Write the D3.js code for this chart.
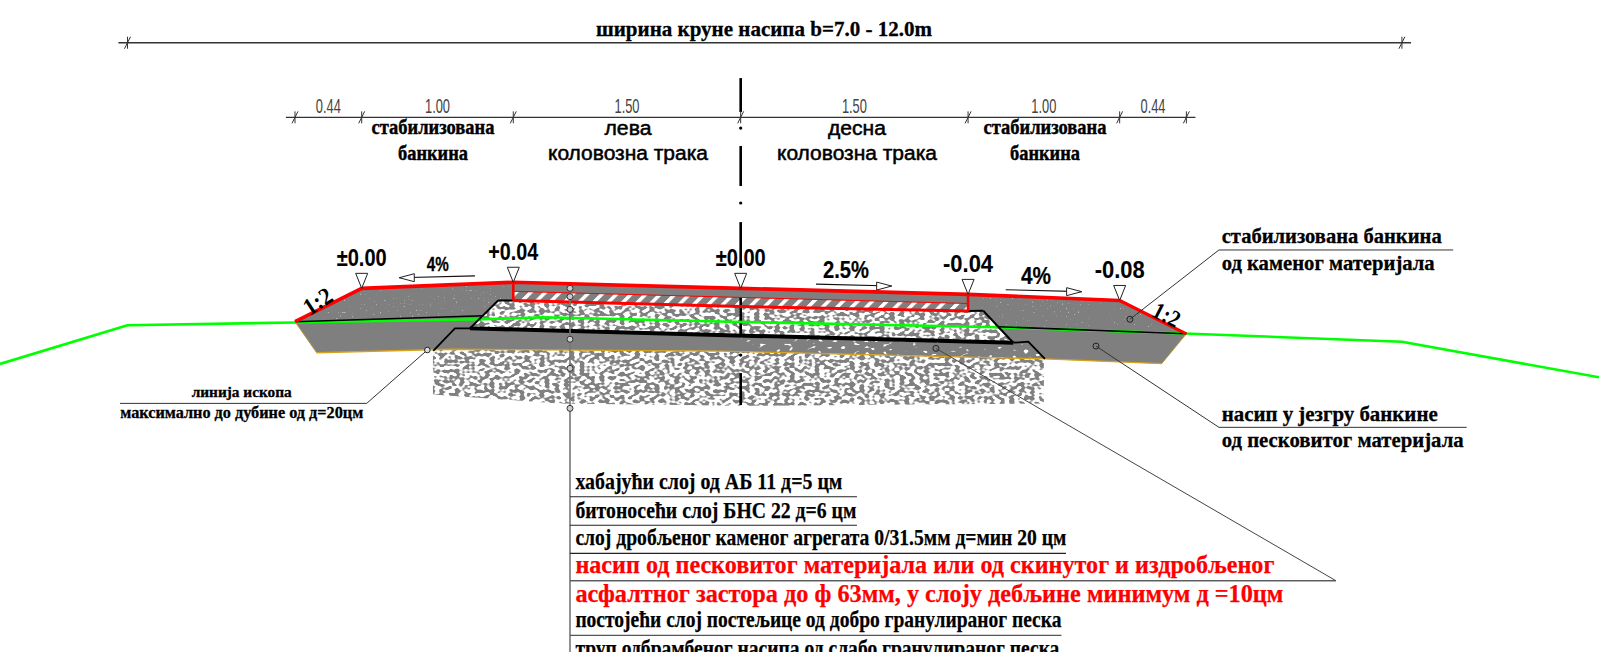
<!DOCTYPE html>
<html>
<head>
<meta charset="utf-8">
<script src="https://cdn.jsdelivr.net/npm/d3@7"></script>
<style>
  html, body { margin: 0; padding: 0; background: #fff; overflow: hidden; }
  svg { display: block; }
</style>
</head>
<body>
<svg id="chart"></svg>
<script>
// cross section values, metres from the road axis / metres from crown level
var surfaceX = [-2.94, -2.5, -1.5, 0, 1.5, 2.5, 2.94];
var surfaceE = [-0.22, 0, 0.04, 0, -0.04, -0.08, -0.30];
var bottomX = [-2.94, -2.797, -1.918, -0.137, 2.007, 2.777, 2.94];
var bottomE = [-0.22, -0.425, -0.402, -0.414, -0.466, -0.497, -0.30];
var asphaltBaseX = [-1.5, 0, 1.5];
var asphaltBaseE = [-0.08, -0.12, -0.15];
var asphaltSplitE = [-0.02, -0.06, -0.10];
var asphaltTopE = [0.04, 0, -0.04];
var baseX = [-1.5, -1.6, -1.786, 1.798, 1.6, 1.5];
var baseE = [-0.08, -0.08, -0.264, -0.359, -0.148, -0.15];
var trenchX = [-2.028, -1.885, -1.786, 1.798, 1.897, 2.007];
var trenchE = [-0.412, -0.264, -0.264, -0.359, -0.352, -0.466];
var coreX = [-2.94, -1.698];
var coreE = [-0.22, -0.181];
var coreRightX = [1.697, 2.94];
var coreRightE = [-0.253, -0.30];
var groundX = [-4.886, -4.045, -2.94, -1.70, -1.304, -0.07, 1.697, 2.93, 4.362, 5.662];
var groundE = [-0.499, -0.244, -0.225, -0.204, -0.191, -0.22, -0.257, -0.298, -0.352, -0.587];
var subgradeX = [-2.03, -1.918, -0.137, 2.0, 2.0, 0, -1.2, -2.03];
var subgradeE = [-0.41, -0.402, -0.414, -0.466, -0.76, -0.775, -0.76, -0.70];
var dottedX = [0, 1.798, 1.897, 2.007, -0.0];
var dottedE = [-0.311, -0.359, -0.352, -0.466, -0.414];

var axisStart = [1.387, 0.939, 0.437, -0.057, -0.559];
var axisEnd = [1.163, 0.675, 0.134, -0.308, -0.77];
var axisDots = [1.057, 0.563, 0.068, -0.44];

var dimStations = [-2.94, -2.5, -1.5, 0, 1.5, 2.5, 2.94];
var dimLabels = ["0.44", "1.00", "1.50", "1.50", "1.00", "0.44"];
var totalStations = [-4.045, 4.362];

var levelX = [-2.5, -1.5, 0, 1.5, 2.5];
var levelE = [0, 0.04, 0, -0.04, -0.08];
var levelLabels = ["±0.00", "+0.04", "±0.00", "-0.04", "-0.08"];

var slopeLabels = ["4%", "2.5%", "4%"];
var slopeTailX = [-1.753, 0.497, 1.748];
var slopeTailE = [0.082, 0.028, -0.009];
var slopeHeadX = [-2.252, 0.996, 2.249];
var slopeHeadE = [0.070, 0.015, -0.022];

var stemX = -1.126;
var stemDots = [0, -0.055, -0.139, -0.336, -0.528, -0.792];
var layerRuleE = [-1.375, -1.563, -1.748, -1.929, -2.289];
var layerRuleEnd = [0.767, 0.767, 2.146, 3.927, 2.116];
var layerLabels = [
  "хабајући слој од АБ 11 д=5 цм",
  "битоносећи слој БНС 22 д=6 цм",
  "слој дробљеног каменог агрегата 0/31.5мм д=мин 20 цм",
  "насип од песковитог материјала или од скинутог и издробљеног",
  "асфалтног застора до ф 63мм, у слоју дебљине минимум д =10цм",
  "постојећи слој постељице од добро гранулираног песка",
  "труп одбрамбеног насипа од слабо гранулираног песка"
];

var width = 1599;
var height = 652;

var x = d3.scaleLinear().domain([-4.886, 5.662]).range([0, width]);
var y = d3.scaleLinear().domain([1.902, -2.399]).range([0, height]);

var svg = d3.select("#chart").attr("width", width).attr("height", height);
var defs = svg.append("defs");

function noiseFilter(id, freq, octaves, seed, gain, offset, tone) {
  var f = defs.append("filter").attr("id", id)
    .attr("x", 0).attr("y", 0).attr("width", 1).attr("height", 1)
    .attr("color-interpolation-filters", "sRGB");
  f.append("feTurbulence").attr("type", "fractalNoise")
    .attr("baseFrequency", freq).attr("numOctaves", octaves).attr("seed", seed).attr("result", "n");
  f.append("feColorMatrix").attr("in", "n").attr("type", "matrix")
    .attr("values", "0 0 0 0 " + tone + " 0 0 0 0 " + tone + " 0 0 0 0 " + tone + " " + gain + " 0 0 0 " + offset)
    .attr("result", "m");
  f.append("feComposite").attr("in", "m").attr("in2", "SourceAlpha").attr("operator", "in");
}
noiseFilter("gravel", "0.2 0.3", 1, 4, 10, -4.6, 0.5);
noiseFilter("dots", "0.17 0.3", 1, 9, 12, -7.6, 1);
noiseFilter("specks", "0.5 0.5", 2, 3, 14, -9.9, 0.72);

var stripes = defs.append("pattern").attr("id", "stripes")
  .attr("patternUnits", "userSpaceOnUse").attr("width", 14.6).attr("height", 14.6)
  .attr("patternTransform", "skewX(-45)");
stripes.append("rect").attr("width", 14.6).attr("height", 14.6).attr("fill", "#7f7f7f");
stripes.append("rect").attr("x", 3).attr("width", 5).attr("height", 14.6).attr("fill", "#fff");

var line = d3.line().x(function(d) { return x(d[0]); }).y(function(d) { return y(d[1]); });

function path(xs, es, stroke, sw, fill, close) {
  return svg.append("path")
    .attr("d", line(d3.zip(xs, es)) + (close ? "Z" : ""))
    .attr("fill", fill || "none")
    .attr("stroke", stroke || "none")
    .attr("stroke-width", sw || 0)
    .attr("stroke-linejoin", "round");
}

function label(str, px, py, size, len, opts) {
  opts = opts || {};
  var t = svg.append("text")
    .attr("x", px).attr("y", py)
    .attr("font-family", opts.family || "'Liberation Serif', serif")
    .attr("font-weight", opts.weight || "bold")
    .attr("font-size", size)
    .attr("fill", opts.fill || "#000")
    .attr("text-anchor", opts.anchor || "middle")
    .text(str);
  if (len) t.attr("textLength", len).attr("lengthAdjust", "spacingAndGlyphs");
  if (opts.outline) t.attr("stroke", opts.fill || "#000").attr("stroke-width", opts.outline);
  if (opts.rotate) t.attr("transform", "rotate(" + opts.rotate + "," + px + "," + py + ")");
  return t;
}

// embankment body
path(surfaceX.concat(bottomX.slice().reverse()), surfaceE.concat(bottomE.slice().reverse()), null, 0, "#7f7f7f", true);
path([-2.5, -1.5, -1.5, -2.9], [-0.01, 0.03, -0.17, -0.21], null, 0, "#7f7f7f", true).attr("filter", "url(#specks)");
path([1.55, 2.5, 2.88, 1.62], [-0.05, -0.09, -0.28, -0.24], null, 0, "#7f7f7f", true).attr("filter", "url(#specks)");

// subgrade gravel under the cut
path(subgradeX, subgradeE, null, 0, "#fff", true);
path(subgradeX, subgradeE, null, 0, "#808080", true).attr("filter", "url(#gravel)");

// crushed stone base
path(baseX, baseE, null, 0, "#fff", true);
path(baseX, baseE, null, 0, "#808080", true).attr("filter", "url(#gravel)");
path(dottedX, dottedE, null, 0, "#fff", true).attr("filter", "url(#dots)");

// asphalt layers
path(asphaltBaseX.concat(asphaltBaseX.slice().reverse()),
  asphaltBaseE.concat(asphaltSplitE.slice().reverse()), null, 0, "url(#stripes)", true);
path(asphaltBaseX.concat(asphaltBaseX.slice().reverse()),
  asphaltSplitE.concat(asphaltTopE.slice().reverse()), null, 0, "#7f7f7f", true);

// road axis sits behind the fill lines
axisStart.forEach(function(s, i) {
  path([0, 0], [s, axisEnd[i]], "#000", 2.6);
});
svg.selectAll("circle.axis").data(axisDots).enter().append("circle")
  .attr("class", "axis")
  .attr("cx", x(0))
  .attr("cy", function(d) { return y(d); })
  .attr("r", 1.6)
  .attr("fill", "#000");

// ground, layer edges
path(groundX, groundE, "#00ff00", 2.6);
path(coreX, coreE, "#000", 1.6);
path(coreRightX, coreRightE, "#000", 1.6);
path(bottomX.slice(1, 6), bottomE.slice(1, 6), "#d6a21c", 1.3);
path(bottomX.slice(0, 2), bottomE.slice(0, 2), "#b89a3a", 1);
path(bottomX.slice(5, 7), bottomE.slice(5, 7), "#b89a3a", 1);
path(baseX.slice(1, 3), baseE.slice(1, 3), "#000", 2);
path(baseX.slice(3, 5), baseE.slice(3, 5), "#000", 2);
path([baseX[0], baseX[1]], [baseE[0], baseE[1]], "#000", 2);
path([baseX[4], baseX[5]], [baseE[4], baseE[5]], "#000", 2);
path(trenchX.slice(0, 3), trenchE.slice(0, 3), "#000", 1.8);
path(trenchX.slice(2, 4), trenchE.slice(2, 4), "#000", 4);
path(trenchX.slice(3, 6), trenchE.slice(3, 6), "#000", 1.8);

// red outline of new works
path(surfaceX.slice(0, 6), surfaceE.slice(0, 6), "#ff0000", 3.6);
path(surfaceX.slice(5, 7), surfaceE.slice(5, 7), "#ff0000", 3.2);
path(asphaltBaseX, asphaltBaseE, "#ff0000", 3);
path(asphaltBaseX, asphaltSplitE, "#ff0000", 1);
path([-1.5, -1.5], [0.04, -0.08], "#ff0000", 2.6);
path([1.5, 1.5], [-0.04, -0.15], "#ff0000", 2.6);

// dimension lines
function dimension(stations, lineE, color) {
  var xs = d3.extent(stations);
  path([xs[0] - 0.06, xs[1] + 0.06], [lineE, lineE], color, 1.3);
  stations.forEach(function(s) {
    svg.append("path")
      .attr("d", "M" + (x(s) + 3) + "," + (y(lineE) - 6) + "L" + (x(s) - 3) + "," + (y(lineE) + 6) +
        "M" + x(s) + "," + (y(lineE) - 6) + "V" + (y(lineE) + 6))
      .attr("stroke", color).attr("stroke-width", 1).attr("fill", "none");
  });
}
dimension(totalStations, 1.62, "#333");
dimension(dimStations, 1.128, "#333");

dimLabels.forEach(function(d, i) {
  var mid = (dimStations[i] + dimStations[i + 1]) / 2;
  label(d, x(mid), 113, 21, 25, {family: "'Liberation Sans', sans-serif", weight: "normal", fill: "#444"});
});

label("ширина круне насипа b=7.0 - 12.0m", 764, 35.5, 22, 336, {outline: 0.3});

// lane and shoulder names
label("стабилизована", 433, 134, 20, 123, {outline: 0.4});
label("банкина", 433, 160, 20, 70, {outline: 0.4});
label("лева", 628, 135, 20, 47, {family: "'Liberation Sans', sans-serif", weight: "normal", outline: 0.5});
label("коловозна трака", 628, 160, 20, 160, {family: "'Liberation Sans', sans-serif", weight: "normal", outline: 0.5});
label("десна", 857, 135, 20, 58, {family: "'Liberation Sans', sans-serif", weight: "normal", outline: 0.5});
label("коловозна трака", 857, 160, 20, 160, {family: "'Liberation Sans', sans-serif", weight: "normal", outline: 0.5});
label("стабилизована", 1045, 134, 20, 123, {outline: 0.4});
label("банкина", 1045, 160, 20, 70, {outline: 0.4});

// level markers
levelX.forEach(function(lx, i) {
  var ax = x(lx), ay = y(levelE[i]);
  svg.append("path")
    .attr("d", "M" + ax + "," + ay + "L" + (ax - 6) + "," + (ay - 15) + "H" + (ax + 6) + "Z")
    .attr("fill", "#fff").attr("stroke", "#222").attr("stroke-width", 1);
  label(levelLabels[i], ax, ay - 22.5, 24, 50, {family: "'Liberation Sans', sans-serif", outline: 0.1});
});

// slope arrows
slopeLabels.forEach(function(s, i) {
  var tx = x(slopeTailX[i]), ty = y(slopeTailE[i]);
  var hx = x(slopeHeadX[i]), hy = y(slopeHeadE[i]);
  var dir = hx > tx ? 1 : -1;
  svg.append("line").attr("x1", tx).attr("y1", ty).attr("x2", hx).attr("y2", hy)
    .attr("stroke", "#111").attr("stroke-width", 1.1);
  svg.append("path")
    .attr("d", "M" + hx + "," + hy + "L" + (hx - dir * 15) + "," + (hy - 4) + "V" + (hy + 4) + "Z")
    .attr("fill", "#fff").attr("stroke", "#222").attr("stroke-width", 1);
});
label(slopeLabels[0], 437.7, 270.7, 20, 22, {family: "'Liberation Sans', sans-serif", outline: 0.3});
label(slopeLabels[1], 846, 278, 23, 46, {family: "'Liberation Sans', sans-serif", outline: 0.2});
label(slopeLabels[2], 1036, 284, 23, 30, {family: "'Liberation Sans', sans-serif", outline: 0.2});
label("1:2", 322, 308, 24, 30, {rotate: -33});
label("1:2", 1163, 322, 24, 28, {rotate: 27});

// leaders
function ring(m, e, color) {
  svg.append("circle").attr("cx", x(m)).attr("cy", y(e)).attr("r", 3)
    .attr("fill", "none").attr("stroke", color).attr("stroke-width", 1);
}
path([2.568, 3.155, 4.700], [-0.204, 0.253, 0.253], "#333", 1);
ring(2.568, -0.204, "#222");
path([2.344, 3.155, 4.789], [-0.381, -0.917, -0.917], "#333", 1);
ring(2.344, -0.381, "#222");
path([1.288, 3.927, stemX], [-0.396, -1.929, -1.929], "#444", 1);
ring(1.288, -0.396, "#222");
path([-2.067, -2.467, -4.094], [-0.407, -0.759, -0.759], "#333", 1);
svg.append("circle").attr("cx", x(-2.067)).attr("cy", y(-0.407)).attr("r", 2.8)
  .attr("fill", "#ddd").attr("stroke", "#222").attr("stroke-width", 1);

label("стабилизована банкина", 1221.7, 243.3, 22, 220, {anchor: "start", outline: 0.3});
label("од каменог материјала", 1221.7, 270, 22, 213, {anchor: "start", outline: 0.3});
label("насип у језгру банкине", 1221.7, 421, 22, 216, {anchor: "start", outline: 0.3});
label("од песковитог материјала", 1221.7, 446.7, 22, 242, {anchor: "start", outline: 0.3});
label("линија ископа", 241.7, 396.7, 15, 100, {outline: 0.3});
label("максимално до дубине од д=20цм", 241.7, 418, 16, 243, {outline: 0.3});

// layer list on the stem
path([stemX, stemX], [0, -2.399], "#777", 1.6);
stemDots.forEach(function(e) {
  svg.append("circle").attr("cx", x(stemX)).attr("cy", y(e)).attr("r", 3)
    .attr("fill", "#ccc").attr("stroke", "#333").attr("stroke-width", 1);
});
layerRuleE.forEach(function(e, i) {
  path([stemX, layerRuleEnd[i]], [e, e], i < 3 ? "#222" : "#555", 1.2);
});

var layerBase = [489.3, 518, 545, 573.3, 602, 627, 656];
var layerSize = [23, 23, 23, 25, 25, 23, 23];
var layerLen = [267, 281, 491, 699, 708, 486, 484];
layerLabels.forEach(function(d, i) {
  var red = i === 3 || i === 4;
  label(d, 575.4, layerBase[i], layerSize[i], layerLen[i], {anchor: "start", fill: red ? "#ff0000" : "#000", outline: 0.25});
});
</script>
</body>
</html>
